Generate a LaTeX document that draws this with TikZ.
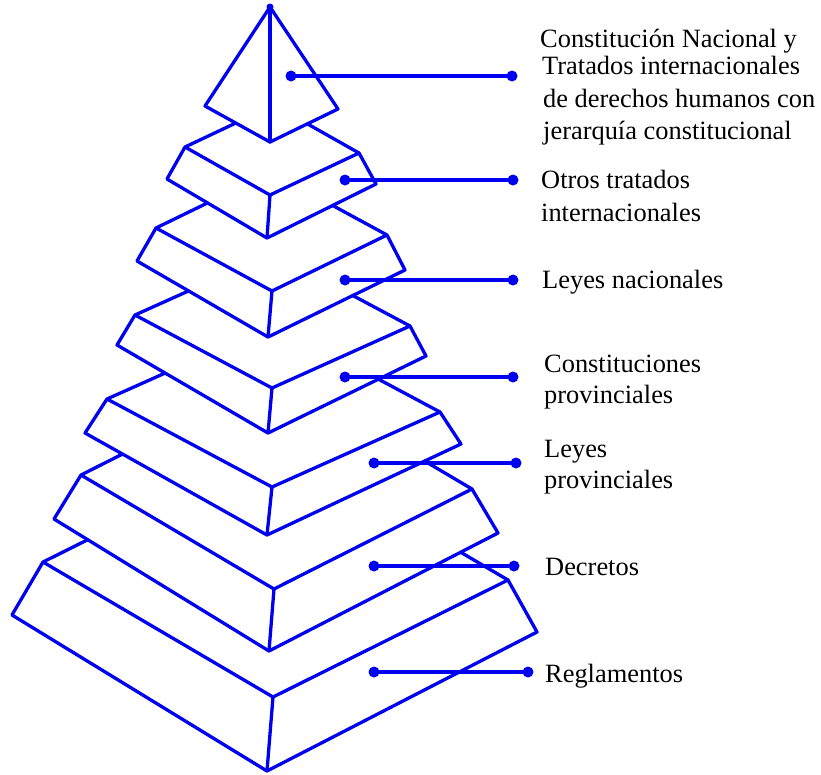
\documentclass[tikz,border=0pt]{standalone}
\usepackage{fontspec}
\setmainfont{Liberation Serif}
\usetikzlibrary{calc,intersections}
\definecolor{pblue}{RGB}{0,0,240}
\begin{document}
\begin{tikzpicture}[x=1pt,y=-1pt,
  edge/.style={draw=pblue, line width=3.3pt, line join=round, line cap=round},
  lbl/.style={anchor=base west, inner sep=0pt, font=\fontsize{26.4}{32}\selectfont, text=black}]
\useasboundingbox (0,0) rectangle (821,774);
% pyramid top (tier 1)
\coordinate (ap) at (270,7);
\coordinate (lb1) at (205,106);
\coordinate (fb1) at (270,142);
\coordinate (rb1) at (338,109);
% tiers: top-left, top-front, top-right, bottom-left, bottom-front, bottom-right
\foreach \k/\ax/\ay/\bx/\by/\cx/\cy/\dx/\dy/\ex/\ey/\fx/\fy in {
  2/185/147/270/195/359/153/167/179/267/238/376/184,
  3/156/228/272/291/387/235/137/261/268/337/405/270,
  4/135/315/272/388/410/326/117/345/268/433/426/356,
  5/107/399/272/487/440/412/85/433/267/535/461/444,
  6/81/475/274/589/472/489/54/519/269/651/498/533,
  7/43/562/273/697/508/580/12/615/267/771/537/632}{
  \coordinate (lt\k) at (\ax,\ay);
  \coordinate (ft\k) at (\bx,\by);
  \coordinate (rt\k) at (\cx,\cy);
  \coordinate (lb\k) at (\dx,\dy);
  \coordinate (fb\k) at (\ex,\ey);
  \coordinate (rb\k) at (\fx,\fy);
  \coordinate (bk\k) at ($(lt\k)+(rt\k)-(ft\k)$);
}
\draw[edge] (ap) -- (lb1) -- (fb1) -- (rb1) -- cycle;
\draw[edge] (ap) -- (fb1);
\fill[pblue] (ap) circle (3.5pt);
\foreach \k/\u in {2/1,3/2,4/3,5/4,6/5,7/6}{
  \draw[edge] (lt\k) -- (ft\k) -- (rt\k) -- (rb\k) -- (fb\k) -- (lb\k) -- cycle;
  \draw[edge] (ft\k) -- (fb\k);
  \path[name path=bl] (lt\k) -- (bk\k);
  \path[name path=br] (rt\k) -- (bk\k);
  \path[name path=ul] (lb\u) -- (fb\u);
  \path[name path=ur] (fb\u) -- (rb\u);
  \path[name intersections={of=bl and ul, by={il\k}}];
  \path[name intersections={of=br and ur, by={ir\k}}];
  \draw[edge] (lt\k) -- (il\k);
  \draw[edge] (rt\k) -- (ir\k);
}
% connectors
\foreach \i/\xa/\xb/\yy in {1/291/512/76, 2/345/513/180, 3/345/513/280, 4/345/513/377,
  5/374/516/463, 6/374/514/566, 7/374/528/672}{
  \coordinate (ca\i) at (\xa,\yy);
  \coordinate (cb\i) at (\xb,\yy);
  \draw[edge] (ca\i) -- (cb\i);
  \fill[pblue] (ca\i) circle (5.5pt);
  \fill[pblue] (cb\i) circle (5.5pt);
}
% labels
\node[lbl] (l1a) at (540,47) {Constitución Nacional y};
\node[lbl] (l1b) at (542,74) {Tratados internacionales};
\node[lbl] (l1c) at (543,107) {de derechos humanos con};
\node[lbl] (l1d) at (543,139) {jerarquía constitucional};
\node[lbl] (l2a) at (541,188) {Otros tratados};
\node[lbl] (l2b) at (541,221) {internacionales};
\node[lbl] (l3) at (542,288) {Leyes nacionales};
\node[lbl] (l4a) at (544,372) {Constituciones};
\node[lbl] (l4b) at (544,403) {provinciales};
\node[lbl] (l5a) at (544,457) {Leyes};
\node[lbl] (l5b) at (544,488) {provinciales};
\node[lbl] (l6) at (545,575) {Decretos};
\node[lbl] (l7) at (545,682) {Reglamentos};
\end{tikzpicture}
\end{document}
